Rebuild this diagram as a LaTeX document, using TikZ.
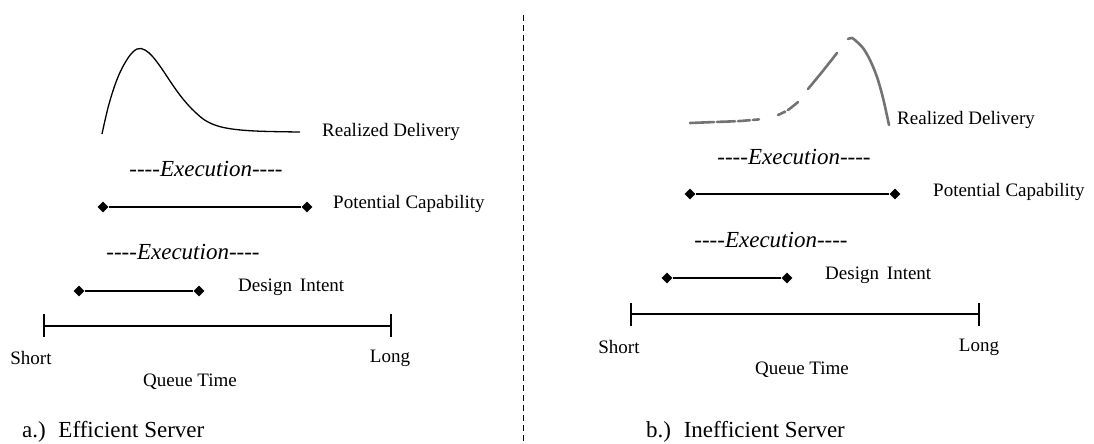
\documentclass[tikz,border=0pt]{standalone}
\usepackage{fontspec}
\setmainfont{Liberation Serif}
\usetikzlibrary{shapes.geometric}
\newcommand{\dashes}{-{}-{}-{}-}
\begin{document}
\begin{tikzpicture}[x=1pt,y=-1pt,
  lbl/.style={font=\fontsize{19}{22}\selectfont, inner sep=0},
  exe/.style={font=\fontsize{23}{26}\selectfont\itshape, inner sep=0},
  captxt/.style={font=\fontsize{23}{26}\selectfont, inner sep=0, anchor=west},
  dia/.style={diamond, fill=black, inner sep=0, minimum size=11pt},
  bar/.style={line width=1.2pt},
  curveA/.style={line width=1.3pt},
  curveB/.style={line width=2.6pt, draw=black!55, line cap=round},
  sep/.style={line width=1pt, dash pattern=on 6pt off 4pt}
]
\useasboundingbox (0,0) rectangle (1094,444);

% separator
\coordinate (sepT) at (523,15);
\coordinate (sepB) at (523,444);
\draw[sep] (sepT) -- (sepB);

% ---------------- left panel ----------------
\draw[curveA] plot[smooth, tension=0.6] coordinates {(102,134) (109,104) (118,77) (128,58) (137,49) (145,50) (153,57) (162,69) (172,84) (183,99) (195,112) (208,122) (226,128) (255,131) (300,132)};
\node[lbl, anchor=west] (rdL) at (322,132) {Realized Delivery};
\node[exe] (exL1) at (206,169) {\dashes Execution\dashes};
\node[dia] (pcL1) at (103,207) {};
\node[dia] (pcL2) at (307,207) {};
\draw[bar] (pcL1) -- (pcL2);
\node[lbl, anchor=west] (pcL) at (333,204) {Potential Capability};
\node[exe] (exL2) at (183,252) {\dashes Execution\dashes};
\node[dia] (diL1) at (79,291) {};
\node[dia] (diL2) at (199,291) {};
\draw[bar] (diL1) -- (diL2);
\node[lbl, anchor=west] (diL) at (238,287) {Design\, Intent};
\coordinate (axL1) at (44,326);
\coordinate (axL2) at (391,326);
\draw[bar] (axL1) -- (axL2);
\draw[bar] ([yshift=12pt]axL1) -- ([yshift=-11pt]axL1);
\draw[bar] ([yshift=12pt]axL2) -- ([yshift=-11pt]axL2);
\node[lbl] (shL) at (31,358) {Short};
\node[lbl] (lgL) at (390,358) {Long};
\node[lbl] (qtL) at (190,382) {Queue Time};
\node[captxt] (capL) at (22,432) {a.)\hspace{0.55em}Efficient Server};

% ---------------- right panel ----------------
\draw[curveB, dash pattern=on 24pt off 3pt on 18pt off 3pt on 12pt off 3pt on 6pt off 20pt]
  plot[smooth, tension=0.5] coordinates {(690,123) (715,122) (740,121) (763,119)};
\draw[curveB, dash pattern=on 8pt off 3pt on 30pt off 10pt]
  plot[smooth, tension=0.5] coordinates {(778,115) (788,110) (798,102)};
\draw[curveB] plot[smooth, tension=0.5] coordinates {(808,89) (822,72) (837,53)};
\draw[curveB] plot[smooth, tension=0.5] coordinates {(848,39) (852,38) (856,41) (863,48) (870,60) (877,77) (883,98) (889,125)};
\node[lbl, anchor=west] (rdR) at (897,120) {Realized Delivery};
\node[exe] (exR1) at (794,157) {\dashes Execution\dashes};
\node[dia] (pcR1) at (690,194) {};
\node[dia] (pcR2) at (895,194) {};
\draw[bar] (pcR1) -- (pcR2);
\node[lbl, anchor=west] (pcR) at (933,192) {Potential Capability};
\node[exe] (exR2) at (771,240) {\dashes Execution\dashes};
\node[dia] (diR1) at (667,278) {};
\node[dia] (diR2) at (787,278) {};
\draw[bar] (diR1) -- (diR2);
\node[lbl, anchor=west] (diR) at (825,275) {Design\, Intent};
\coordinate (axR1) at (631,314);
\coordinate (axR2) at (979,314);
\draw[bar] (axR1) -- (axR2);
\draw[bar] ([yshift=11pt]axR1) -- ([yshift=-12pt]axR1);
\draw[bar] ([yshift=11pt]axR2) -- ([yshift=-12pt]axR2);
\node[lbl] (shR) at (619,347) {Short};
\node[lbl] (lgR) at (979,347) {Long};
\node[lbl] (qtR) at (802,370) {Queue Time};
\node[captxt] (capR) at (646,432) {b.)\hspace{0.55em}Inefficient Server};
\end{tikzpicture}
\end{document}
